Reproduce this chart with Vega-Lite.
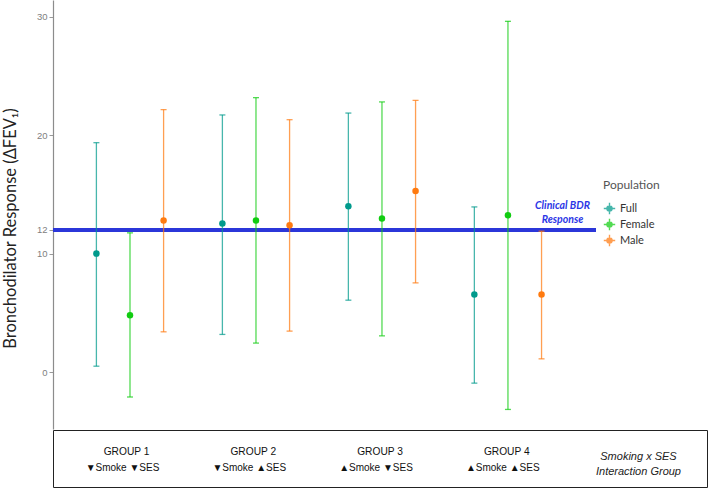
{
  "$schema": "https://vega.github.io/schema/vega-lite/v6.json",
  "padding": {"left": 2, "top": 0, "right": 0, "bottom": 1},
  "background": "white",
  "spacing": 0,
  "config": {"view": {"stroke": null}, "font": "Liberation Sans"},
  "vconcat": [
    {
      "width": 543,
      "height": 429,
      "data": {"values": [
        {"group": "1", "population": "Full", "est": 10.0, "lo": 0.5, "hi": 19.36},
        {"group": "1", "population": "Female", "est": 4.8, "lo": -2.1, "hi": 11.75},
        {"group": "1", "population": "Male", "est": 12.8, "lo": 3.4, "hi": 22.15},
        {"group": "2", "population": "Full", "est": 12.54, "lo": 3.18, "hi": 21.7},
        {"group": "2", "population": "Female", "est": 12.8, "lo": 2.45, "hi": 23.16},
        {"group": "2", "population": "Male", "est": 12.4, "lo": 3.46, "hi": 21.3},
        {"group": "3", "population": "Full", "est": 14.0, "lo": 6.07, "hi": 21.86},
        {"group": "3", "population": "Female", "est": 12.96, "lo": 3.06, "hi": 22.8},
        {"group": "3", "population": "Male", "est": 15.29, "lo": 7.53, "hi": 22.93},
        {"group": "4", "population": "Full", "est": 6.55, "lo": -0.93, "hi": 13.94},
        {"group": "4", "population": "Female", "est": 13.24, "lo": -3.15, "hi": 29.6},
        {"group": "4", "population": "Male", "est": 6.55, "lo": 1.12, "hi": 11.89}
      ]},
      "encoding": {
        "x": {"field": "group", "type": "nominal", "axis": null,
              "scale": {"domain": ["1", "2", "3", "4"], "paddingInner": 0.2, "paddingOuter": 0.255, "align": 0.414}},
        "xOffset": {"field": "population", "type": "nominal",
                    "scale": {"domain": ["Full", "Female", "Male"], "paddingInner": 0, "paddingOuter": 0}}
      },
      "layer": [
        {
          "data": {"values": [{"threshold": 12, "label": "Clinical BDR\nResponse", "group": "4", "population": "Male"}]},
          "mark": {"type": "rule", "color": "#2b36d9", "strokeWidth": 4},
          "encoding": {
            "x": null, "xOffset": null,
            "y": {"field": "threshold", "type": "quantitative"}
          }
        },
        {
          "mark": {"type": "rule", "strokeWidth": 1.3, "opacity": 0.72},
          "encoding": {
            "y": {"field": "lo", "type": "quantitative",
                  "scale": {"domain": [-4.8, 31.4], "nice": false, "zero": false},
                  "axis": {"values": [0, 10, 12, 20, 30], "grid": false,
                           "title": "Bronchodilator Response (ΔFEV₁)",
                           "titleFont": "Lato", "titleFontSize": 16.5, "titleFontWeight": "normal", "titleColor": "#222",
                           "titlePadding": 18, "titleY": 228,
                           "labelFont": "Liberation Sans", "labelFontSize": 9.5, "labelColor": "#808080", "labelPadding": 2,
                           "tickSize": 4, "tickColor": "#999", "domainColor": "#8c8c8c", "domainWidth": 1.2}},
            "y2": {"field": "hi"},
            "color": {"field": "population", "type": "nominal",
                      "scale": {"domain": ["Full", "Female", "Male"], "range": ["#009a8c", "#11cc11", "#ff7a0f"]},
                      "legend": {"title": "Population", "orient": "none", "legendX": 550, "legendY": 180,
                                 "titleFont": "Lato", "titleFontSize": 12, "titleFontWeight": "normal", "titleColor": "#555",
                                 "titlePadding": 10,
                                 "labelFont": "Lato", "labelFontSize": 11, "labelColor": "#333",
                                 "symbolType": "M-1,0L1,0M0,-1L0,1M0.5,0L0.35,0.35L0,0.5L-0.35,0.35L-0.5,0L-0.35,-0.35L0,-0.5L0.35,-0.35Z",
                                 "symbolSize": 130, "symbolStrokeWidth": 1.4, "symbolOpacity": 1, "rowPadding": -6}}
          }
        },
        {
          "mark": {"type": "tick", "size": 6, "thickness": 1.3, "opacity": 0.72},
          "encoding": {"y": {"field": "lo", "type": "quantitative"}, "color": {"field": "population", "type": "nominal"}}
        },
        {
          "mark": {"type": "tick", "size": 6, "thickness": 1.3, "opacity": 0.72},
          "encoding": {"y": {"field": "hi", "type": "quantitative"}, "color": {"field": "population", "type": "nominal"}}
        },
        {
          "mark": {"type": "circle", "size": 42, "opacity": 1},
          "encoding": {"y": {"field": "est", "type": "quantitative"}, "color": {"field": "population", "type": "nominal"}}
        },
        {
          "data": {"values": [{"threshold": 12, "label": "Clinical BDR\nResponse", "group": "4", "population": "Male"}]},
          "mark": {"type": "text", "lineBreak": "\n", "font": "Lato", "fontStyle": "italic", "fontWeight": "bold",
                   "fontSize": 10.5, "color": "#2b36e6", "baseline": "bottom", "align": "center", "dx": 21, "dy": -19, "lineHeight": 14},
          "encoding": {"y": {"field": "threshold", "type": "quantitative"}, "text": {"field": "label"}}
        }
      ]
    },
    {
      "width": 654,
      "height": 57,
      "view": {"stroke": "#222", "strokeWidth": 1},
      "data": {"values": [
        {"col": "1", "head": "GROUP 1", "sub": "▼Smoke ▼SES"},
        {"col": "2", "head": "GROUP 2", "sub": "▼Smoke ▲SES"},
        {"col": "3", "head": "GROUP 3", "sub": "▲Smoke ▼SES"},
        {"col": "4", "head": "GROUP 4", "sub": "▲Smoke ▲SES"},
        {"col": "5", "head": "", "sub": "", "note": "Smoking x SES\nInteraction Group"}
      ]},
      "encoding": {
        "x": {"field": "col", "type": "ordinal", "axis": null,
              "scale": {"type": "point", "domain": ["1", "2", "3", "4", "5"], "padding": 0.58}}
      },
      "layer": [
        {"mark": {"type": "text", "fontSize": 10.2, "color": "#111", "dy": -7, "dx": 0},
         "encoding": {"text": {"field": "head"}}},
        {"mark": {"type": "text", "fontSize": 10, "color": "#111", "dy": 9.5, "dx": -4},
         "encoding": {"text": {"field": "sub"}}},
        {"transform": [{"filter": "datum.note"}],
         "mark": {"type": "text", "fontSize": 11, "fontStyle": "italic", "color": "#222", "lineBreak": "\n", "lineHeight": 15, "dy": -2, "dx": 5},
         "encoding": {"text": {"field": "note"}}}
      ]
    }
  ]
}
